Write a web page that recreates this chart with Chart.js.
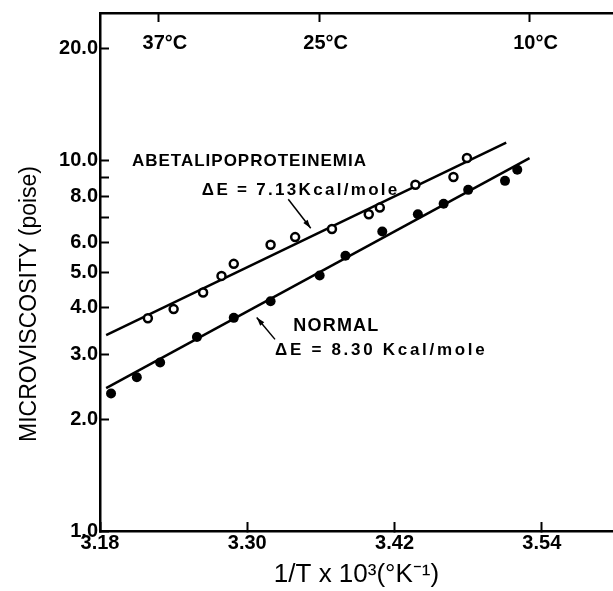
<!DOCTYPE html>
<html>
<head>
<meta charset="utf-8">
<script src="https://cdn.jsdelivr.net/npm/chart.js@4.4.1/dist/chart.umd.min.js"></script>
<style>
    html, body { margin: 0; padding: 0; background: #fff; overflow: hidden; }
    #wrap { width: 613px; height: 591px; }
</style>
</head>
<body>
<div id="wrap"><canvas id="chart" width="613" height="591"></canvas></div>
<script>
// x = 1/T x 10^3 (K^-1), y = microviscosity (poise)
const abetaX = [3.219, 3.240, 3.264, 3.279, 3.289, 3.319, 3.339, 3.369, 3.399, 3.408, 3.437, 3.468, 3.479];
const abetaY = [3.75, 3.97, 4.40, 4.88, 5.26, 5.92, 6.21, 6.53, 7.16, 7.46, 8.60, 9.02, 10.15];
const normalX = [3.189, 3.210, 3.229, 3.259, 3.289, 3.319, 3.359, 3.380, 3.410, 3.439, 3.460, 3.480, 3.510, 3.520];
const normalY = [2.35, 2.60, 2.85, 3.34, 3.76, 4.17, 4.89, 5.53, 6.43, 7.16, 7.64, 8.33, 8.81, 9.44];

// fitted lines, end points
const abetaFitX = [3.185, 3.511];
const abetaFitY = [3.38, 11.18];
const normalFitX = [3.185, 3.530];
const normalFitY = [2.43, 10.15];

const xTicks = [3.18, 3.30, 3.42, 3.54];
const yTicks = [1, 2, 3, 4, 5, 6, 7, 8, 9, 10, 20];
const yTickLabels = ['1.0', '2.0', '3.0', '4.0', '5.0', '6.0', '', '8.0', '', '10.0', '20.0'];
// temperature marks on the top axis, as placed in the figure
const tempTicks = [3.228, 3.359, 3.530];
const tempLabels = ['37°C', '25°C', '10°C'];

const FONT = '"Liberation Sans", Arial, sans-serif';

// text notes and arrows, in data units
const notes = [
    { text: 'ABETALIPOPROTEINEMIA', x: 3.206, y: 9.93, size: 17, spacing: 1 },
    { text: 'ΔE = 7.13Kcal/mole', x: 3.263, y: 8.32, size: 17, spacing: 2.3 },
    { text: 'NORMAL', x: 3.3375, y: 3.58, size: 18, spacing: 1.2 },
    { text: 'ΔE = 8.30 Kcal/mole', x: 3.3226, y: 3.08, size: 17, spacing: 2.7 }
];
const arrows = [
    { x1: 3.3334, y1: 7.86, x2: 3.3517, y2: 6.56 },
    { x1: 3.3226, y1: 3.29, x2: 3.3077, y2: 3.77 }
];

function pts(xs, ys) {
    return xs.map((v, i) => ({ x: v, y: ys[i] }));
}

const annotate = {
    id: 'annotate',
    afterDraw(chart) {
        const { ctx, scales: { x, x2, y } } = chart;
        ctx.save();
        ctx.fillStyle = '#000';
        ctx.strokeStyle = '#000';
        ctx.textBaseline = 'middle';

        // temperature labels under the top axis
        ctx.textAlign = 'center';
        ctx.font = 'bold 20px ' + FONT;
        x2.ticks.forEach((t, i) => {
            ctx.fillText(tempLabels[i], x2.getPixelForValue(t.value) + 6, 43);
        });

        ctx.textAlign = 'left';
        notes.forEach(n => {
            ctx.font = 'bold ' + n.size + 'px ' + FONT;
            ctx.letterSpacing = n.spacing + 'px';
            ctx.fillText(n.text, x.getPixelForValue(n.x), y.getPixelForValue(n.y));
        });
        ctx.letterSpacing = '0px';

        arrows.forEach(a => {
            const x1 = x.getPixelForValue(a.x1), y1 = y.getPixelForValue(a.y1);
            const xe = x.getPixelForValue(a.x2), ye = y.getPixelForValue(a.y2);
            const ang = Math.atan2(ye - y1, xe - x1);
            ctx.lineWidth = 1.5;
            ctx.beginPath();
            ctx.moveTo(x1, y1);
            ctx.lineTo(xe, ye);
            ctx.stroke();
            ctx.beginPath();
            ctx.moveTo(xe, ye);
            ctx.lineTo(xe - 9 * Math.cos(ang - 0.3), ye - 9 * Math.sin(ang - 0.3));
            ctx.lineTo(xe - 9 * Math.cos(ang + 0.3), ye - 9 * Math.sin(ang + 0.3));
            ctx.closePath();
            ctx.fill();
        });

        // y axis title
        ctx.translate(30, 304);
        ctx.rotate(-Math.PI / 2);
        ctx.textAlign = 'center';
        ctx.font = '23px ' + FONT;
        ctx.fillText('MICROVISCOSITY (poise)', 0, 0);
        ctx.restore();
    }
};

// fixed box sizes, no extra label padding around the plot
function fixBox(w, h) {
    return s => {
        if (w !== null) s.width = w;
        if (h !== null) s.height = h;
        s.paddingLeft = 0; s.paddingRight = 0;
        s.paddingTop = 0; s.paddingBottom = 0;
    };
}

const tickFont = { family: FONT, weight: 'bold', size: 20 };
const gridOpts = { drawOnChartArea: false, drawTicks: true, tickLength: -9, tickWidth: 2, tickColor: '#000' };
const borderOpts = { display: true, color: '#000', width: 2.5 };

new Chart(document.getElementById('chart'), {
    type: 'scatter',
    data: {
        datasets: [
            {
                label: 'Abetalipoproteinemia',
                data: pts(abetaX, abetaY),
                pointRadius: 4,
                pointBorderWidth: 2.5,
                pointBackgroundColor: '#fff',
                pointBorderColor: '#000',
                showLine: false
            },
            {
                label: 'Normal',
                data: pts(normalX, normalY),
                pointRadius: 5,
                pointBorderWidth: 0,
                pointBackgroundColor: '#000',
                pointBorderColor: '#000',
                showLine: false
            },
            {
                label: 'Abeta fit',
                data: pts(abetaFitX, abetaFitY),
                showLine: true,
                pointRadius: 0,
                borderColor: '#000',
                borderWidth: 2.5
            },
            {
                label: 'Normal fit',
                data: pts(normalFitX, normalFitY),
                showLine: true,
                pointRadius: 0,
                borderColor: '#000',
                borderWidth: 2.5
            }
        ]
    },
    options: {
        responsive: false,
        animation: false,
        layout: { padding: 0, autoPadding: false },
        plugins: { legend: { display: false }, tooltip: { enabled: false } },
        scales: {
            x: {
                type: 'linear',
                position: 'bottom',
                min: 3.18,
                max: 3.598,
                afterBuildTicks: s => { s.ticks = xTicks.map(v => ({ value: v })); },
                afterFit: fixBox(null, 60),
                ticks: {
                    callback: v => v.toFixed(2),
                    color: '#000', font: tickFont, padding: 9,
                    maxRotation: 0, autoSkip: false
                },
                grid: gridOpts,
                border: borderOpts,
                title: {
                    display: true,
                    text: '1/T x 10³(°K⁻¹)',
                    color: '#000',
                    font: { family: FONT, size: 26 },
                    padding: { top: 0, bottom: 1 }
                }
            },
            x2: {
                type: 'linear',
                position: 'top',
                min: 3.18,
                max: 3.598,
                afterBuildTicks: s => { s.ticks = tempTicks.map(v => ({ value: v })); },
                afterFit: fixBox(null, 13),
                ticks: { display: false },
                grid: gridOpts,
                border: borderOpts
            },
            y: {
                type: 'logarithmic',
                min: 1,
                max: 25,
                afterBuildTicks: s => { s.ticks = yTicks.map(v => ({ value: v })); },
                afterFit: fixBox(100, null),
                ticks: {
                    callback: (v, i) => yTickLabels[i],
                    color: '#000', font: tickFont, padding: 11,
                    autoSkip: false
                },
                grid: gridOpts,
                border: borderOpts
            }
        }
    },
    plugins: [annotate]
});
</script>
</body>
</html>
